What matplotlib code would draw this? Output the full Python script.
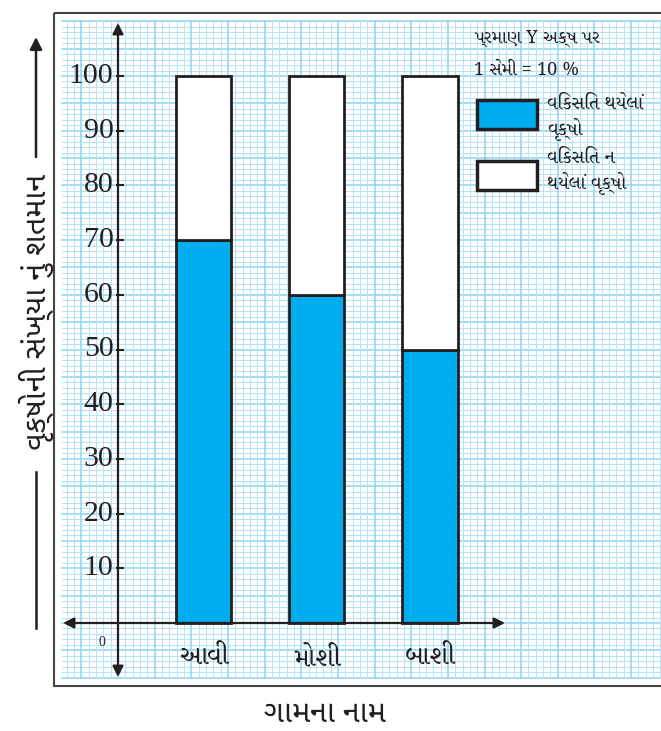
import matplotlib
matplotlib.use("Agg")
import matplotlib.pyplot as plt
from matplotlib.patches import Rectangle
import numpy as np

# data
villages = ["આવી", "મોશી", "બાશી"]
grown = [70, 60, 50]
not_grown = [30, 40, 50]
y_ticks = [10, 20, 30, 40, 50, 60, 70, 80, 90, 100]

scale_title = ["પ્રમાણ Y અક્ષ પર", "1 સેમી = 10 %"]
legend_grown = "વિકસિત થયેલાં\nવૃક્ષો"
legend_not = "વિકસિત ન\nથયેલાં વૃક્ષો"
x_title = "ગામના નામ"
y_title = "વૃક્ષોની સંખ્યા નું શતમાન"

BLUE = "#00aeef"
INK = "#231f20"
GUJ_SERIF = ["Noto Serif Gujarati", "Liberation Serif", "DejaVu Sans"]
GUJ_SANS = ["Noto Sans Gujarati", "DejaVu Sans"]

W, H = 661, 731
fig = plt.figure(figsize=(W / 100, H / 100), dpi=100)

# ---- background sheet (pixel coordinates) ----
bg = fig.add_axes([0, 0, 1, 1])
bg.set_xlim(0, W)
bg.set_ylim(H, 0)
bg.axis("off")

gx0, gx1, gy0, gy1 = 62, 661, 21, 678
# graph paper: horizontal lines one per y unit, vertical lines ~7.3 px apart
ys = 623 - np.arange(-10, 111) * 5.47
ys = ys[(ys >= gy0) & (ys <= gy1)]
xs = 118 + np.arange(-8, 75) * 7.33
xs = xs[(xs >= gx0) & (xs <= gx1)]
for y in ys:
    major = (np.round((623 - y) / 5.47) % 5) == 0
    bg.plot([gx0, gx1], [y, y], color="#8dd4f2" if major else "#b5e3f7",
            lw=1.1 if major else 0.7, zorder=1)
for x in xs:
    major = (np.round((x - 118) / 7.33) % 5) == 0
    bg.plot([x, x], [gy0, gy1], color="#8dd4f2" if major else "#b5e3f7",
            lw=1.1 if major else 0.7, zorder=1)

bg.add_patch(Rectangle((54, 13), 640, 673, fill=False, edgecolor="#444444", lw=1.5, zorder=2))

# y title with arrow lines
bg.text(36, 312, y_title, rotation=90, ha="center", va="center",
        fontsize=22, family=GUJ_SANS, color=INK)
bg.plot([36, 36], [628, 472], color=INK, lw=1.8)
bg.annotate("", xy=(36, 37), xytext=(36, 157),
            arrowprops=dict(arrowstyle="-|>", color=INK, lw=1.8,
                            mutation_scale=18, shrinkA=0, shrinkB=0))

# x title
bg.text(325, 714, x_title, ha="center", va="center", fontsize=22,
        family=GUJ_SANS, color=INK)

# scale note and legend
bg.text(474, 38, scale_title[0], ha="left", va="center", fontsize=13,
        family=GUJ_SERIF, color=INK)
bg.text(474, 70, scale_title[1], ha="left", va="center", fontsize=13,
        family=GUJ_SERIF, color=INK)
bg.add_patch(Rectangle((477, 100), 60, 29, facecolor=BLUE, edgecolor=INK, lw=2.5, zorder=3))
bg.add_patch(Rectangle((477, 161), 60, 29, facecolor="white", edgecolor=INK, lw=2.5, zorder=3))
bg.text(547, 118, legend_grown, ha="left", va="center", fontsize=13.5,
        family=GUJ_SERIF, color=INK, linespacing=1.35)
bg.text(547, 172, legend_not, ha="left", va="center", fontsize=13.5,
        family=GUJ_SERIF, color=INK, linespacing=1.35)

# ---- chart axes (data coordinates) ----
ax = fig.add_axes([gx0 / W, (H - gy1) / H, (gx1 - gx0) / W, (gy1 - gy0) / H])
ax.patch.set_alpha(0)
ax.axis("off")
ppx, ppy = 113.25, 5.47
ax.set_xlim((gx0 - 203.5) / ppx, (gx1 - 203.5) / ppx)
ax.set_ylim((623 - gy1) / ppy, (623 - gy0) / ppy)

pos = np.arange(len(villages))
ax.bar(pos, grown, width=0.486, color=BLUE, edgecolor=INK, lw=2, zorder=3)
ax.bar(pos, not_grown, bottom=grown, width=0.486, color="white",
       edgecolor=INK, lw=2, zorder=3)

yax = (118 - 203.5) / ppx
ax.annotate("", xy=(yax, (623 - 23) / ppy), xytext=(yax, (623 - 677) / ppy),
            arrowprops=dict(arrowstyle="<|-|>", color=INK, lw=1.6,
                            mutation_scale=16, shrinkA=0, shrinkB=0), zorder=4)
ax.annotate("", xy=((505 - 203.5) / ppx, 0), xytext=((63 - 203.5) / ppx, 0),
            arrowprops=dict(arrowstyle="<|-|>", color=INK, lw=1.6,
                            mutation_scale=16, shrinkA=0, shrinkB=0), zorder=4)

ax.hlines(y_ticks, yax - 0.02, yax + 0.05, color=INK, lw=1.5, zorder=4)
for v in y_ticks:
    ax.text(yax - 0.04, v, str(v), ha="right", va="center", fontsize=21.5,
            family="Liberation Serif", color=INK)
ax.text((102 - 203.5) / ppx, (623 - 642) / ppy, "0", ha="center", va="center",
        fontsize=10, family="Liberation Serif", color=INK)

for p, name in zip(pos, villages):
    ax.text(p, (623 - 658) / ppy, name, ha="center", va="center", fontsize=19,
            family=GUJ_SERIF, color=INK)

fig.savefig("out.png", dpi=100)
